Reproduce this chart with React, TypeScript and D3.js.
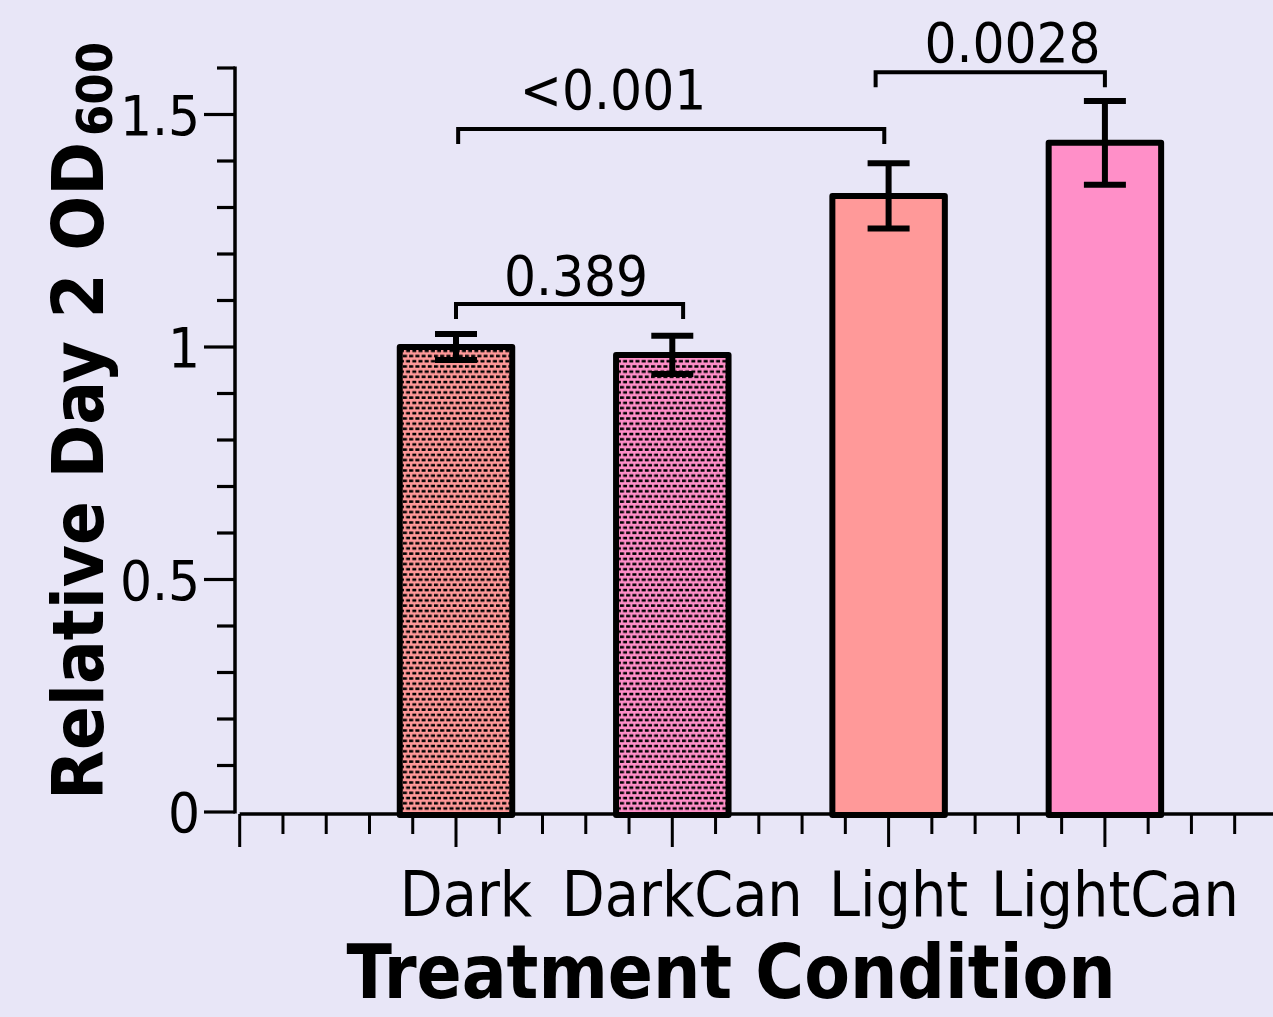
import React from "react";
import * as d3 from "d3";

const categories = ["Dark", "DarkCan", "Light", "LightCan"];
const means = [1.0, 0.983, 1.325, 1.439];
const errors = [0.028, 0.041, 0.07, 0.09];
const fills = ["#FF9999", "#FF8FC8", "#FF9999", "#FF8FC8"];
const patterned = [true, true, false, false];

const yTickValues = [0, 0.5, 1, 1.5];
const yTickLabels = ["0", "0.5", "1", "1.5"];

const bracketLabels = ["0.389", "<0.001", "0.0028"];
const bracketFrom = [1.0, 1.01, 2.94];
const bracketTo = [2.05, 2.98, 4.0];
const bracketLevel = [1.0925, 1.469, 1.591];
const bracketTextX = [1.555, 1.726, 3.573];
const bracketTextLevel = [1.112, 1.512, 1.613];

const W = 1273;
const H = 1017;
const BG = "#E8E6F7";
const FONT = "'DejaVu Sans Condensed', 'DejaVu Sans', sans-serif";

export default function App() {
  const y = d3.scaleLinear().domain([0, 1.6]).range([812, 68]);
  const x = d3.scaleLinear().domain([0, 6]).range([239.7, 239.7 + 6 * 216.3]);
  const step = x(1) - x(0);
  const barW = step * 0.52;

  const minorY = d3.range(0, 17).map((i) => i / 10);
  const minorX = d3.range(0, 31).map((i) => i / 5).filter((v) => Math.abs(v - Math.round(v)) > 1e-6);
  const majorX = d3.range(0, 6);
  const axisY = 814;

  return (
    <svg
      width={W}
      height={H}
      style={{ position: "absolute", left: 0, top: 0, background: BG }}
      fontFamily={FONT}
    >
      <defs>
        {fills.map((c, i) => (
          <pattern key={i} id={`pat${i}`} patternUnits="userSpaceOnUse" width={6.2} height={10.4}>
            <rect width={6.2} height={10.4} fill={c} />
            <rect x={0} y={1.2} width={4} height={2.5} fill="#000" />
            <rect x={3.1} y={6.4} width={4} height={2.5} fill="#000" />
            <rect x={-3.1} y={6.4} width={4} height={2.5} fill="#000" />
          </pattern>
        ))}
      </defs>
      <rect width={W} height={H} fill={BG} />

      {/* bars */}
      {categories.map((c, i) => {
        const cx = x(i + 1);
        return (
          <rect
            key={c}
            x={cx - barW / 2}
            y={y(means[i])}
            width={barW}
            height={y(0) + 3 - y(means[i])}
            fill={patterned[i] ? `url(#pat${i})` : fills[i]}
            stroke="#000"
            strokeWidth={6}
            strokeLinejoin="round"
          />
        );
      })}

      {/* error bars */}
      {categories.map((c, i) => {
        const cx = x(i + 1);
        const top = y(means[i] + errors[i]);
        const bot = y(means[i] - errors[i]);
        return (
          <g key={c} stroke="#000" strokeWidth={6}>
            <line x1={cx} x2={cx} y1={top} y2={bot} />
            <line x1={cx - 21} x2={cx + 21} y1={top} y2={top} />
            <line x1={cx - 21} x2={cx + 21} y1={bot} y2={bot} />
          </g>
        );
      })}

      {/* y axis */}
      <line x1={235} x2={235} y1={y(1.6) - 1.5} y2={y(0) + 1.5} stroke="#000" strokeWidth={3.5} />
      {minorY.map((v) => {
        const major = yTickValues.some((t) => Math.abs(t - v) < 1e-6);
        return (
          <line key={v} x1={major ? 204 : 217} x2={235} y1={y(v)} y2={y(v)} stroke="#000" strokeWidth={3.2} />
        );
      })}
      {yTickValues.map((v, i) => (
        <text key={v} x={200} y={y(v)} dy="0.36em" textAnchor="end" fontSize={56} fill="#000">
          {yTickLabels[i]}
        </text>
      ))}

      {/* x axis */}
      <line x1={x(0)} x2={W + 5} y1={axisY} y2={axisY} stroke="#000" strokeWidth={3.5} />
      {majorX.map((v) => (
        <line key={v} x1={x(v)} x2={x(v)} y1={axisY} y2={847} stroke="#000" strokeWidth={3} />
      ))}
      {minorX.map((v) => (
        <line key={v} x1={x(v)} x2={x(v)} y1={axisY} y2={834} stroke="#000" strokeWidth={3} />
      ))}
      {categories.map((c, i) => (
        <text key={c} x={x(i + 1) + 10} y={916} textAnchor="middle" fontSize={62} fill="#000">
          {c}
        </text>
      ))}

      {/* significance brackets */}
      {bracketLabels.map((lab, i) => {
        const x1 = x(bracketFrom[i]);
        const x2 = x(bracketTo[i]);
        const yy = y(bracketLevel[i]);
        return (
          <g key={lab}>
            <path
              d={`M${x1},${yy + 15} V${yy} H${x2} V${yy + 15}`}
              fill="none"
              stroke="#000"
              strokeWidth={4}
            />
            <text x={x(bracketTextX[i])} y={y(bracketTextLevel[i])} textAnchor="middle" fontSize={56} fill="#000">
              {lab}
            </text>
          </g>
        );
      })}

      {/* axis titles */}
      <text x={731} y={998} textAnchor="middle" fontSize={74} fontWeight="bold" fill="#000">
        Treatment Condition
      </text>
      <text
        transform="translate(103,800) rotate(-90)"
        fontSize={72}
        fontWeight="bold"
        fill="#000"
      >
        Relative Day 2 OD
        <tspan fontSize={50} dy={9} dx={6}>600</tspan>
      </text>
    </svg>
  );
}
